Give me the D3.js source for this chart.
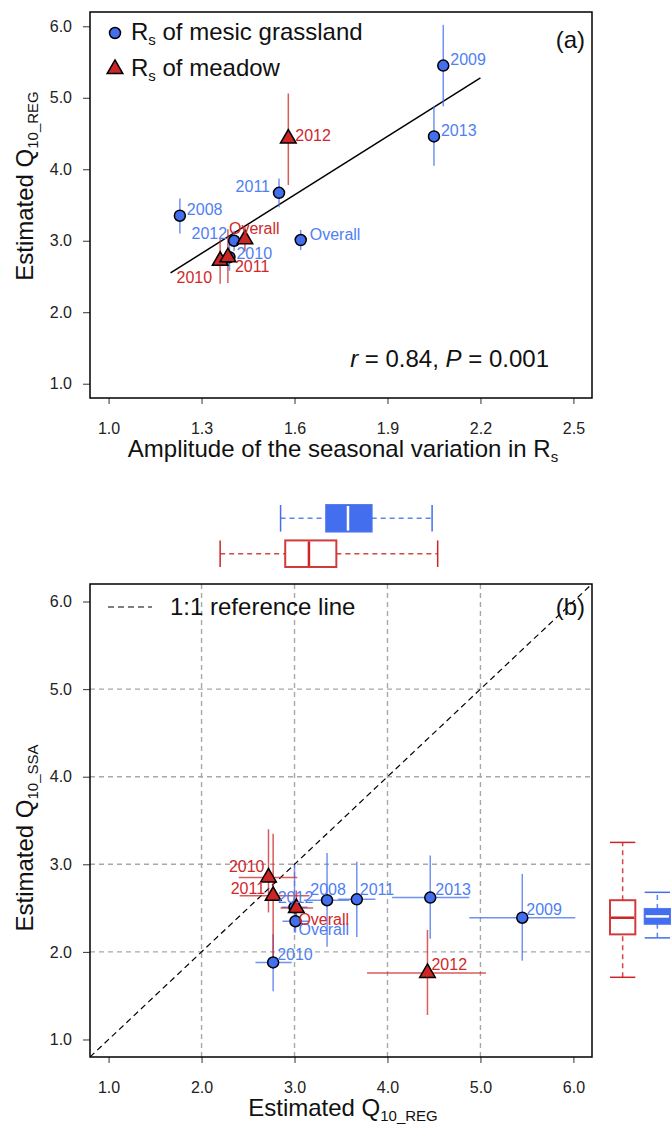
<!DOCTYPE html>
<html>
<head>
<meta charset="utf-8">
<script src="https://cdn.jsdelivr.net/npm/d3@7"></script>
<style>
  body { margin: 0; background: #fff; }
  svg { display: block; }
  text { font-family: "Liberation Sans", Arial, sans-serif; }
</style>
</head>
<body>
<div id="chart"></div>
<script>
// ---- data ----
var mesicYears = ["2008", "2009", "2010", "2011", "2012", "2013", "Overall"];
var meadowYears = ["2010", "2011", "2012", "Overall"];

// mesic grassland
var mesicAmp = [1.23, 2.08, 1.39, 1.55, 1.405, 2.05, 1.62];
var mesicReg = [3.35, 5.45, 2.77, 3.67, 3.00, 4.46, 3.01];
var mesicRegLo = [3.10, 4.88, 2.58, 3.47, 2.86, 4.05, 2.87];
var mesicRegHi = [3.59, 6.02, 2.97, 3.87, 3.14, 4.88, 3.15];
var mesicSsa = [2.59, 2.39, 1.88, 2.60, 2.51, 2.62, 2.35];
var mesicSsaLo = [2.06, 1.90, 1.55, 2.17, 2.22, 2.15, 2.22];
var mesicSsaHi = [3.13, 2.89, 2.20, 3.03, 2.99, 3.10, 2.46];

// meadow
var meadowAmp = [1.36, 1.385, 1.58, 1.44];
var meadowReg = [2.72, 2.77, 4.43, 3.02];
var meadowRegLo = [2.40, 2.41, 3.78, 2.85];
var meadowRegHi = [3.03, 3.16, 5.06, 3.20];
var meadowSsa = [2.85, 2.64, 1.76, 2.50];
var meadowSsaLo = [2.45, 1.94, 1.28, 2.30];
var meadowSsaHi = [3.40, 3.35, 2.25, 2.70];

// regression line in panel (a)
var fitX = [1.2, 2.2];
var fitY = [2.55, 5.28];

// boxplot summaries: min, q1, median, q3, max
var regBoxMesic = [2.85, 3.34, 3.575, 3.83, 4.48];
var regBoxMeadow = [2.20, 2.90, 3.155, 3.45, 4.54];
var ssaBoxMesic = [2.16, 2.32, 2.405, 2.49, 2.68];
var ssaBoxMeadow = [1.71, 2.20, 2.39, 2.59, 3.25];

// tick labels
var ticksAx = [1.0, 1.3, 1.6, 1.9, 2.2, 2.5];
var ticksQ = [1, 2, 3, 4, 5, 6];
var gridQ = [2, 3, 4, 5];

// ---- layout (label offsets: dx, dy, anchor) ----
var mesicLabA = [[7, -6, "start"], [7, -6, "start"], [7, -4, "start"], [-9, -6, "end"], [-7, -7, "end"], [7, -6, "start"], [9, -6, "start"]];
var meadowLabA = [[-8, 17, "end"], [7, 9, "start"], [7, -3, "start"], [-16, -11, "start"]];
var mesicLabB = [[1, -11, "middle"], [4, -8, "start"], [4, -8, "start"], [3, -10, "start"], [1, -10, "middle"], [5, -8, "start"], [3, 8, "start"]];
var meadowLabB = [[-4, -11, "end"], [-8, -7, "end"], [4, -9, "start"], [2, 11, "start"]];

var BLUE = "#436EEE", RED = "#CD2626";
var BLUE_TXT = "#4f7ff2", RED_TXT = "#d0282a";

var svg = d3.select("#chart").append("svg").attr("width", 671).attr("height", 1127);

var left = 90, right = 592;
var xA = d3.scaleLinear().domain([0.94, 2.56]).range([left, right]);
var yA = d3.scaleLinear().domain([0.8, 6.2]).range([398, 12]);
var xB = d3.scaleLinear().domain([0.8, 6.2]).range([left, right]);
var yB = d3.scaleLinear().domain([0.8, 6.2]).range([1057, 584]);

function styleAxis(g) {
  g.select(".domain").remove();
  g.selectAll(".tick line").attr("stroke", "#333");
  g.selectAll(".tick text").attr("font-size", 16).attr("fill", "#222")
    .attr("font-family", "'Liberation Sans', Arial, sans-serif");
}

// draws a triangle centred (centroid) on the point, like R pch 24
function triPath(cx, cy) {
  var R = 5.8, top = 1.555 * R, hw = 1.3468 * R, bot = 0.7776 * R;
  return "M" + cx + "," + (cy - top) + "L" + (cx + hw) + "," + (cy + bot) + "L" + (cx - hw) + "," + (cy + bot) + "Z";
}

// text with a subscript piece
function subText(g, main, sub, size, subSize) {
  g.append("tspan").text(main);
  g.append("tspan").attr("font-size", subSize).attr("dy", size * 0.22).text(sub);
}

// =============== panel (a) ===============
var pa = svg.append("g");

pa.append("g").attr("transform", "translate(" + left + ",0)")
  .call(d3.axisLeft(yA).tickValues(ticksQ).tickFormat(d3.format(".1f")).tickSize(7).tickPadding(11))
  .call(styleAxis);
pa.append("g").attr("transform", "translate(0,398)")
  .call(d3.axisBottom(xA).tickValues(ticksAx).tickFormat(d3.format(".1f")).tickSize(6).tickPadding(19))
  .call(styleAxis);

// regression line
pa.append("line")
  .attr("x1", xA(fitX[0])).attr("y1", yA(fitY[0]))
  .attr("x2", xA(fitX[1])).attr("y2", yA(fitY[1]))
  .attr("stroke", "#000").attr("stroke-width", 1.5);

// error bars
mesicYears.forEach(function (d, i) {
  pa.append("line").attr("x1", xA(mesicAmp[i])).attr("x2", xA(mesicAmp[i]))
    .attr("y1", yA(mesicRegLo[i])).attr("y2", yA(mesicRegHi[i]))
    .attr("stroke", BLUE).attr("stroke-opacity", 0.75).attr("stroke-width", 1.5);
});
meadowYears.forEach(function (d, i) {
  pa.append("line").attr("x1", xA(meadowAmp[i])).attr("x2", xA(meadowAmp[i]))
    .attr("y1", yA(meadowRegLo[i])).attr("y2", yA(meadowRegHi[i]))
    .attr("stroke", RED).attr("stroke-opacity", 0.75).attr("stroke-width", 1.5);
});

// points
mesicYears.forEach(function (d, i) {
  pa.append("circle").attr("cx", xA(mesicAmp[i])).attr("cy", yA(mesicReg[i])).attr("r", 5.5)
    .attr("fill", BLUE).attr("stroke", "#000").attr("stroke-width", 1.5);
});
meadowYears.forEach(function (d, i) {
  pa.append("path").attr("d", triPath(xA(meadowAmp[i]), yA(meadowReg[i])))
    .attr("fill", RED).attr("stroke", "#000").attr("stroke-width", 1.5);
});

// labels
mesicYears.forEach(function (d, i) {
  var l = mesicLabA[i];
  pa.append("text").attr("x", xA(mesicAmp[i]) + l[0]).attr("y", yA(mesicReg[i]) + l[1])
    .attr("dy", "0.35em").attr("text-anchor", l[2]).attr("font-size", 16).attr("fill", BLUE_TXT).text(d);
});
meadowYears.forEach(function (d, i) {
  var l = meadowLabA[i];
  pa.append("text").attr("x", xA(meadowAmp[i]) + l[0]).attr("y", yA(meadowReg[i]) + l[1])
    .attr("dy", "0.35em").attr("text-anchor", l[2]).attr("font-size", 16).attr("fill", RED_TXT).text(d);
});

// legend
pa.append("circle").attr("cx", 115).attr("cy", 33).attr("r", 5.5)
  .attr("fill", BLUE).attr("stroke", "#000").attr("stroke-width", 1.5);
pa.append("path").attr("d", triPath(115, 69)).attr("fill", RED).attr("stroke", "#000").attr("stroke-width", 1.5);
var l1 = pa.append("text").attr("x", 131).attr("y", 40).attr("font-size", 24).attr("fill", "#111");
l1.append("tspan").text("R");
l1.append("tspan").attr("font-size", 15).attr("dy", 5).text("s");
l1.append("tspan").attr("dy", -5).text(" of mesic grassland");
var l2 = pa.append("text").attr("x", 131).attr("y", 76).attr("font-size", 24).attr("fill", "#111");
l2.append("tspan").text("R");
l2.append("tspan").attr("font-size", 15).attr("dy", 5).text("s");
l2.append("tspan").attr("dy", -5).text(" of meadow");

pa.append("text").attr("x", 585).attr("y", 48).attr("text-anchor", "end").attr("font-size", 24).attr("fill", "#111").text("(a)");

// statistics
var st = pa.append("text").attr("x", 549).attr("y", 367).attr("text-anchor", "end").attr("font-size", 24).attr("fill", "#111");
st.append("tspan").attr("font-style", "italic").text("r");
st.append("tspan").text(" = 0.84, ");
st.append("tspan").attr("font-style", "italic").text("P");
st.append("tspan").text(" = 0.001");

// axis titles
var xtA = pa.append("text").attr("x", 343).attr("y", 457).attr("text-anchor", "middle").attr("font-size", 24).attr("fill", "#111");
subText(xtA, "Amplitude of the seasonal variation in R", "s", 24, 15);
var ytA = pa.append("text").attr("transform", "translate(33,186) rotate(-90)").attr("text-anchor", "middle").attr("font-size", 24).attr("fill", "#111");
subText(ytA, "Estimated Q", "10_REG", 24, 15);

pa.append("rect").attr("x", left).attr("y", 12).attr("width", right - left).attr("height", 386)
  .attr("fill", "none").attr("stroke", "#000").attr("stroke-width", 1.5);

// =============== boxplots above panel (b) ===============
var bandTop = d3.scaleBand().domain(["mesic", "meadow"]).range([505, 567]).paddingInner(0.25);

function hBox(stats, y0, h, color, filled) {
  var g = svg.append("g");
  var ym = y0 + h / 2;
  [[stats[0], stats[1]], [stats[3], stats[4]]].forEach(function (s) {
    g.append("line").attr("x1", xB(s[0])).attr("x2", xB(s[1])).attr("y1", ym).attr("y2", ym)
      .attr("stroke", color).attr("stroke-width", 1.5).attr("stroke-dasharray", "5,4").attr("stroke-opacity", 0.85);
  });
  [stats[0], stats[4]].forEach(function (v) {
    g.append("line").attr("x1", xB(v)).attr("x2", xB(v)).attr("y1", y0).attr("y2", y0 + h)
      .attr("stroke", color).attr("stroke-width", 1.5);
  });
  g.append("rect").attr("x", xB(stats[1])).attr("y", y0).attr("width", xB(stats[3]) - xB(stats[1])).attr("height", h)
    .attr("fill", filled ? color : "#fff").attr("stroke", color).attr("stroke-width", 2).attr("stroke-opacity", 0.9);
  g.append("line").attr("x1", xB(stats[2])).attr("x2", xB(stats[2])).attr("y1", y0 + 1).attr("y2", y0 + h - 1)
    .attr("stroke", filled ? "#fff" : color).attr("stroke-width", 2.5);
}
hBox(regBoxMesic, bandTop("mesic"), bandTop.bandwidth(), BLUE, true);
hBox(regBoxMeadow, bandTop("meadow"), bandTop.bandwidth(), RED, false);

// =============== boxplots right of panel (b) ===============
var bandRight = d3.scaleBand().domain(["meadow", "mesic"]).range([610, 670]).paddingInner(0.27);

function vBox(stats, x0, w, color, filled) {
  var g = svg.append("g");
  var xm = x0 + w / 2;
  [[stats[0], stats[1]], [stats[3], stats[4]]].forEach(function (s) {
    g.append("line").attr("x1", xm).attr("x2", xm).attr("y1", yB(s[0])).attr("y2", yB(s[1]))
      .attr("stroke", color).attr("stroke-width", 1.5).attr("stroke-dasharray", "5,4").attr("stroke-opacity", 0.85);
  });
  [stats[0], stats[4]].forEach(function (v) {
    g.append("line").attr("x1", x0).attr("x2", x0 + w).attr("y1", yB(v)).attr("y2", yB(v))
      .attr("stroke", color).attr("stroke-width", 1.5);
  });
  g.append("rect").attr("x", x0).attr("y", yB(stats[3])).attr("width", w).attr("height", yB(stats[1]) - yB(stats[3]))
    .attr("fill", filled ? color : "#fff").attr("stroke", color).attr("stroke-width", 2).attr("stroke-opacity", 0.9);
  g.append("line").attr("x1", x0 + 1).attr("x2", x0 + w - 1).attr("y1", yB(stats[2])).attr("y2", yB(stats[2]))
    .attr("stroke", filled ? "#fff" : color).attr("stroke-width", 2.5);
}
vBox(ssaBoxMeadow, bandRight("meadow"), bandRight.bandwidth(), RED, false);
vBox(ssaBoxMesic, bandRight("mesic"), bandRight.bandwidth(), BLUE, true);

// =============== panel (b) ===============
var pb = svg.append("g");

svg.append("clipPath").attr("id", "clipB").append("rect")
  .attr("x", left).attr("y", 584).attr("width", right - left).attr("height", 473);

// grid
gridQ.forEach(function (v) {
  pb.append("line").attr("x1", xB(v)).attr("x2", xB(v)).attr("y1", 584).attr("y2", 1057)
    .attr("stroke", "#a8a8a8").attr("stroke-width", 1.4).attr("stroke-dasharray", "5,4");
  pb.append("line").attr("x1", left).attr("x2", right).attr("y1", yB(v)).attr("y2", yB(v))
    .attr("stroke", "#a8a8a8").attr("stroke-width", 1.4).attr("stroke-dasharray", "5,4");
});

pb.append("g").attr("transform", "translate(" + left + ",0)")
  .call(d3.axisLeft(yB).tickValues(ticksQ).tickFormat(d3.format(".1f")).tickSize(7).tickPadding(11))
  .call(styleAxis);
pb.append("g").attr("transform", "translate(0,1057)")
  .call(d3.axisBottom(xB).tickValues(ticksQ).tickFormat(d3.format(".1f")).tickSize(6).tickPadding(19))
  .call(styleAxis);

// 1:1 line
pb.append("line").attr("clip-path", "url(#clipB)")
  .attr("x1", xB(0.8)).attr("y1", yB(0.8)).attr("x2", xB(6.2)).attr("y2", yB(6.2))
  .attr("stroke", "#000").attr("stroke-width", 1.2).attr("stroke-dasharray", "6,4");

// error bars
function crossBars(reg, regLo, regHi, ssa, ssaLo, ssaHi, color) {
  reg.forEach(function (d, i) {
    pb.append("line").attr("x1", xB(regLo[i])).attr("x2", xB(regHi[i])).attr("y1", yB(ssa[i])).attr("y2", yB(ssa[i]))
      .attr("stroke", color).attr("stroke-opacity", 0.75).attr("stroke-width", 1.5);
    pb.append("line").attr("x1", xB(reg[i])).attr("x2", xB(reg[i])).attr("y1", yB(ssaLo[i])).attr("y2", yB(ssaHi[i]))
      .attr("stroke", color).attr("stroke-opacity", 0.75).attr("stroke-width", 1.5);
  });
}
crossBars(mesicReg, mesicRegLo, mesicRegHi, mesicSsa, mesicSsaLo, mesicSsaHi, BLUE);
crossBars(meadowReg, meadowRegLo, meadowRegHi, meadowSsa, meadowSsaLo, meadowSsaHi, RED);

mesicYears.forEach(function (d, i) {
  pb.append("circle").attr("cx", xB(mesicReg[i])).attr("cy", yB(mesicSsa[i])).attr("r", 5.5)
    .attr("fill", BLUE).attr("stroke", "#000").attr("stroke-width", 1.5);
});
meadowYears.forEach(function (d, i) {
  pb.append("path").attr("d", triPath(xB(meadowReg[i]), yB(meadowSsa[i])))
    .attr("fill", RED).attr("stroke", "#000").attr("stroke-width", 1.5);
});

mesicYears.forEach(function (d, i) {
  var l = mesicLabB[i];
  pb.append("text").attr("x", xB(mesicReg[i]) + l[0]).attr("y", yB(mesicSsa[i]) + l[1])
    .attr("dy", "0.35em").attr("text-anchor", l[2]).attr("font-size", 16).attr("fill", BLUE_TXT).text(d);
});
meadowYears.forEach(function (d, i) {
  var l = meadowLabB[i];
  pb.append("text").attr("x", xB(meadowReg[i]) + l[0]).attr("y", yB(meadowSsa[i]) + l[1])
    .attr("dy", "0.35em").attr("text-anchor", l[2]).attr("font-size", 16).attr("fill", RED_TXT).text(d);
});

// legend
pb.append("line").attr("x1", 108).attr("x2", 152).attr("y1", 607).attr("y2", 607)
  .attr("stroke", "#000").attr("stroke-width", 1.2).attr("stroke-dasharray", "6,4");
pb.append("text").attr("x", 170).attr("y", 615).attr("font-size", 24).attr("fill", "#111").text("1:1 reference line");
pb.append("text").attr("x", 585).attr("y", 615).attr("text-anchor", "end").attr("font-size", 24).attr("fill", "#111").text("(b)");

var xtB = pb.append("text").attr("x", 343).attr("y", 1116).attr("text-anchor", "middle").attr("font-size", 24).attr("fill", "#111");
subText(xtB, "Estimated Q", "10_REG", 24, 15);
var ytB = pb.append("text").attr("transform", "translate(33,838) rotate(-90)").attr("text-anchor", "middle").attr("font-size", 24).attr("fill", "#111");
subText(ytB, "Estimated Q", "10_SSA", 24, 15);

pb.append("rect").attr("x", left).attr("y", 584).attr("width", right - left).attr("height", 473)
  .attr("fill", "none").attr("stroke", "#000").attr("stroke-width", 1.5);
</script>
</body>
</html>
